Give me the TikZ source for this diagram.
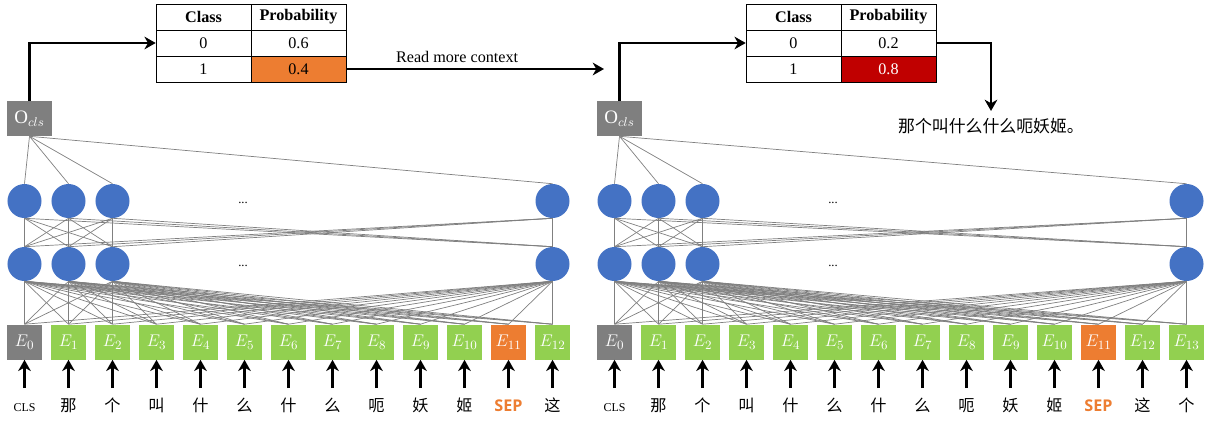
\documentclass[tikz,border=0pt]{standalone}
\usepackage{fontspec}
\setmainfont{Liberation Serif}
\newfontfamily\cjk{Noto Sans CJK SC}
\newfontfamily\sepsans{Open Sans}
\usetikzlibrary{arrows.meta}
\definecolor{boxgray}{HTML}{7F7F7F}
\definecolor{egreen}{HTML}{92D050}
\definecolor{sepor}{HTML}{ED7D31}
\definecolor{nblue}{HTML}{4472C4}
\definecolor{hired}{HTML}{C00000}
\definecolor{lgray}{HTML}{808080}
\tikzset{
  conn/.style={draw=lgray, line width=0.5pt},
  neuron/.style={circle, fill=nblue, minimum size=0.85cm, inner sep=0},
  ebox/.style={fill=#1, minimum size=0.875cm, inner sep=0, text=white,
    font=\fontsize{13}{15}\selectfont},
  obox/.style={fill=boxgray, minimum width=1.125cm, minimum height=0.875cm,
    inner sep=0, text=white, font=\fontsize{13.5}{15}\selectfont},
  cell/.style={draw, minimum width=2.375cm, minimum height=0.65cm, inner sep=0,
    font=\fontsize{11.5}{13}\selectfont},
  head/.style={cell, font=\fontsize{11.5}{13}\selectfont\bfseries},
  bigarrow/.style={-{Stealth[length=8pt,width=9pt,inset=2.5pt]}, line width=1.8pt},
  word/.style={font=\cjk\fontsize{11.5}{13}\selectfont, inner sep=0,
    text height=16pt, text depth=2pt, anchor=base},
}
\begin{document}
\begin{tikzpicture}[x=0.025cm, y=-0.025cm]
\useasboundingbox (0,0) rectangle (1207,421);
% both networks, the right one reads one character more
\foreach \p/\dx/\n in {l/0/12, r/590/13} {
  % output box
  \node[obox] (o\p) at (\dx+29.5,118.5) {$\mathrm{O}_{cls}$};
  % hidden layers
  \foreach \k in {1,2,3} {
    \node[neuron] (u\p\k) at (\dx-19.5+44*\k,201) {};
    \node[neuron] (d\p\k) at (\dx-19.5+44*\k,264) {};
  }
  \node[neuron] (u\p4) at (\dx+24.5+44*\n,201) {};
  \node[neuron] (d\p4) at (\dx+24.5+44*\n,264) {};
  \node[font=\small] (du\p) at (\dx+243,203) {...};
  \node[font=\small] (dd\p) at (\dx+243,266) {...};
  % embeddings and input tokens
  \foreach \w [count=\i from 0] in {{\rmfamily\fontsize{8.5}{10}\selectfont CLS},
      那,个,叫,什,么,什,么,呃,妖,姬,{\sepsans\bfseries\color{sepor}SEP},这,个} {
    \ifnum\i>\n\else
      \ifnum\i=0 \def\ecol{boxgray}\else\ifnum\i=11 \def\ecol{sepor}\else\def\ecol{egreen}\fi\fi
      \node[ebox=\ecol] (e\p\i) at (\dx+24.5+44*\i,342) {$E_{\i}$};
      \node[word] (w\p\i) at (\dx+24.5+44*\i,411) {\w};
      \draw[bigarrow] (w\p\i.north) -- (e\p\i.south);
    \fi
  }
  % connections
  \foreach \ia in {1,...,4} {
    \draw[conn] (o\p.south) -- (u\p\ia.north);
    \foreach \ib in {1,...,4}
      \draw[conn] (u\p\ia.south) -- (d\p\ib.north);
    \foreach \ib in {0,...,\n}
      \draw[conn] (d\p\ia.south) -- (e\p\ib.north);
  }
}
% left table
\node[head] (hcl) at (203.5,17) {Class};
\node[head] (hpl) at (298.5,17) {Probability};
\node[cell] (c0l) at (203.5,43) {0};
\node[cell] (p0l) at (298.5,43) {0.6};
\node[cell] (c1l) at (203.5,69) {1};
\node[cell, fill=sepor] (p1l) at (298.5,69) {0.4};
% right table
\node[head] (hcr) at (793.5,17) {Class};
\node[head] (hpr) at (888.5,17) {Probability};
\node[cell] (c0r) at (793.5,43) {0};
\node[cell] (p0r) at (888.5,43) {0.2};
\node[cell] (c1r) at (793.5,69) {1};
\node[cell, fill=hired, text=white] (p1r) at (888.5,69) {0.8};
% arrows between the parts
\draw[bigarrow] (ol.north) |- (c0l.west);
\draw[bigarrow] (or.north) |- (c0r.west);
\coordinate (rmend) at (604,69);
\draw[bigarrow] (p1l.east) -- node[above, pos=0.43, font=\fontsize{11.5}{13}\selectfont] (rmtxt) {Read more context} (rmend);
\node[font=\cjk\fontsize{12}{14}\selectfont, anchor=north, inner sep=0] (sent) at (991,118) {那个叫什么什么呃妖姬。};
\draw[bigarrow, shorten >=5pt] (p0r.east) -| (sent.north);
\end{tikzpicture}
\end{document}
